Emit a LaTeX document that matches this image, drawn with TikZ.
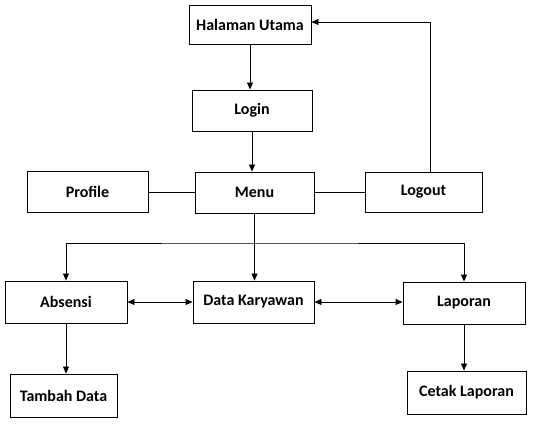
\documentclass[tikz,border=0pt]{standalone}
\usepackage{fontspec}
\setmainfont{Carlito}
\usepackage{tikz}
\usetikzlibrary{arrows.meta}

\begin{document}
\begin{tikzpicture}[x=1pt,y=-1pt,line width=0.9pt,>={Triangle[length=7pt,width=6pt]},
box/.style n args={2}{draw,rectangle,minimum width=#1pt,minimum height=#2pt,inner sep=0pt,font=\fontsize{16}{19}\selectfont\bfseries}]
\useasboundingbox (0,0) rectangle (552,427);
\foreach \n/\x/\y/\w/\h/\t in %
{hal/250/24.5/122/39/Halaman Utama,login/252/110.5/120/41/Login,
 profile/87.5/192/121/41/Profile,menu/254.5/192.5/119/41/Menu,
 logout/423.5/192/117/40/Logout,absensi/66/302/122/42/Absensi,
 datak/253.5/302/121/42/Data Karyawan,laporan/464/303/122/42/Laporan,
 tambah/63.5/395.5/107/43/Tambah Data,cetak/466.5/392.5/119/43/Cetak Laporan} {
   \node[box={\w}{\h}] (\n) at (\x,\y) {\t};
}
\coordinate (bus) at (255,243);
\draw[->] (hal.south) -- (hal.south |- login.north);
\draw[->] (login.south) -- (login.south |- menu.north);
\draw (profile.east) -- (profile.east -| menu.west);
\draw (menu.east) -- (menu.east -| logout.west);
\draw[->] ([xshift=6.5pt]logout.north) |- ([yshift=2.5pt]hal.east);
\draw[->] (menu.south) -- (menu.south |- datak.north);
\draw[<->] (absensi.north) |- (bus) -| (laporan.north);
\draw[<->] (absensi.east) -- (datak.west);
\draw[<->] (datak.east) -- (datak.east -| laporan.west);
\draw[->] (absensi.south) -- (absensi.south |- tambah.north);
\draw[->] (laporan.south) -- (laporan.south |- cetak.north);
\end{tikzpicture}
\end{document}
